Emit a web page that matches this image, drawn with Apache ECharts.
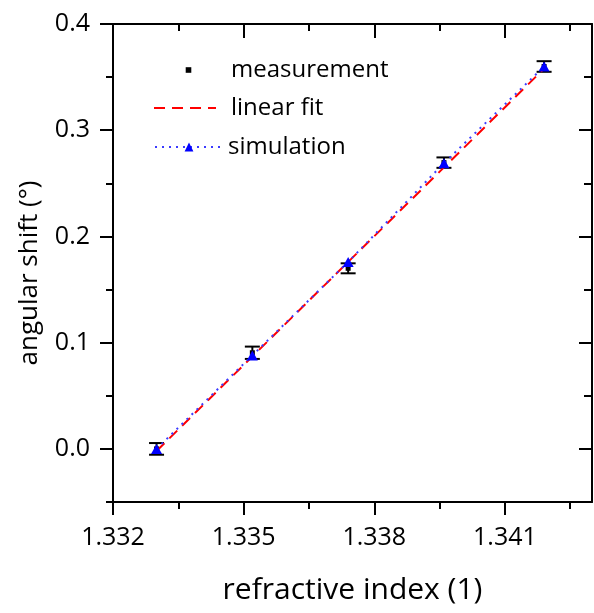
<!DOCTYPE html>
<html>
<head>
<meta charset="utf-8">
<script src="https://cdn.jsdelivr.net/npm/echarts@6/dist/echarts.min.js"></script>
<style>
html,body{margin:0;padding:0;background:#fff;}
#chart{width:594px;height:613px;}
</style>
</head>
<body>
<div id="chart"></div>
<script>
// ---- data ----
const measX   = [1.3330, 1.3352, 1.3374, 1.3396, 1.3419];
const measY   = [0.000, 0.0905, 0.170, 0.2695, 0.360];
const measErr = [0.0055, 0.0058, 0.0047, 0.0049, 0.0050];
const simX    = [1.3330, 1.3352, 1.3374, 1.3396, 1.3419];
const simY    = [0.000, 0.088, 0.176, 0.269, 0.360];
const fitX    = [1.3330, 1.3419];
const fitY    = [-0.002, 0.358];

const xMajor = [1.332, 1.335, 1.338, 1.341];
const xTickLabels = ['1.332', '1.335', '1.338', '1.341'];
const xMinor = [1.3335, 1.3365, 1.3395, 1.3425];
const yMajor = [0.0, 0.1, 0.2, 0.3, 0.4];
const yTickLabels = ['0.0', '0.1', '0.2', '0.3', '0.4'];
const yMinor = [-0.05, 0.05, 0.15, 0.25, 0.35];

const XMIN = 1.332, XMAX = 1.343, YMIN = -0.05, YMAX = 0.4;

const FONT = 'Open Sans';
const black = '#000';

function lab(list, labels) {
  return function (v) {
    const i = list.findIndex(t => Math.abs(t - v) < 1e-9);
    return i >= 0 ? labels[i] : '';
  };
}

function xAxisDef(pos, ticks, len, inside, withLabels, showLine) {
  const a = {
    type: 'value', position: pos, min: XMIN, max: XMAX, interval: 0.001,
    axisLine: { show: showLine, onZero: false, lineStyle: { color: black, width: 2 } },
    axisTick: { show: true, inside: inside, length: len, customValues: ticks,
                lineStyle: { color: black, width: 2 } },
    axisLabel: { show: false },
    splitLine: { show: false }
  };
  if (withLabels) {
    a.axisLabel = { show: true, customValues: xMajor, formatter: lab(xMajor, xTickLabels),
      color: black, fontFamily: FONT, fontSize: 25, margin: 23 };
    a.name = 'refractive index (1)';
    a.nameLocation = 'middle';
    a.nameGap = 73;
    a.nameTextStyle = { color: black, fontFamily: FONT, fontSize: 30 };
  }
  return a;
}
function yAxisDef(pos, ticks, len, inside, withLabels, showLine) {
  const a = {
    type: 'value', position: pos, min: YMIN, max: YMAX, interval: 0.05,
    axisLine: { show: showLine, onZero: false, lineStyle: { color: black, width: 2 } },
    axisTick: { show: true, inside: inside, length: len, customValues: ticks,
                lineStyle: { color: black, width: 2 } },
    axisLabel: { show: false },
    splitLine: { show: false }
  };
  if (withLabels) {
    a.axisLabel = { show: true, customValues: yMajor, formatter: lab(yMajor, yTickLabels),
      color: black, fontFamily: FONT, fontSize: 25, margin: 23 };
    a.name = 'angular shift (°)';
    a.nameLocation = 'middle';
    a.nameGap = 70;
    a.nameRotate = 90;
    a.nameTextStyle = { color: black, fontFamily: FONT, fontSize: 26, padding: [0, 20, 0, 0] };
  }
  return a;
}

const chart = echarts.init(document.getElementById('chart'), null, { renderer: 'canvas' });

const legendText = { color: black, fontFamily: FONT, fontSize: 24 };

const option = {
  animation: false,
  backgroundColor: '#fff',
  grid: { left: 113, top: 24, width: 479, height: 478, containLabel: false, outerBoundsMode: 'none' },
  xAxis: [
    xAxisDef('bottom', xMajor, 13, false, true, true),
    xAxisDef('bottom', xMinor, 7, false, false, false),
    xAxisDef('top', xMajor, 14, true, false, true),
    xAxisDef('top', xMinor, 7, true, false, false)
  ],
  yAxis: [
    yAxisDef('left', yMajor, 13, false, true, true),
    yAxisDef('left', yMinor, 7, false, false, false),
    yAxisDef('right', yMajor, 13, true, false, true),
    yAxisDef('right', yMinor, 8, true, false, false)
  ],
  legend: [
    { data: [{ name: 'measurement', lineStyle: { opacity: 0 } }],
      left: 151, top: 58, padding: 0, itemWidth: 75, itemHeight: 7,
      textStyle: legendText, selectedMode: false },
    { data: [{ name: 'linear fit', itemStyle: { opacity: 0 } }],
      left: 153, top: 96, padding: 0, itemWidth: 62, itemHeight: 10,
      textStyle: Object.assign({ padding: [0, 0, 0, 10] }, legendText), selectedMode: false },
    { data: [{ name: 'simulation' }],
      left: 154, top: 135, padding: 0, itemWidth: 68, itemHeight: 11,
      textStyle: legendText, selectedMode: false }
  ],
  series: [
    {
      name: 'errorbars', type: 'custom', xAxisIndex: 0, yAxisIndex: 0, z: 1,
      data: measX.map((x, i) => [x, measY[i], measErr[i]]),
      encode: { x: 0, y: 1 },
      renderItem: function (params, api) {
        const x = api.value(0), y = api.value(1), e = api.value(2);
        const t = api.coord([x, y + e]);
        const b = api.coord([x, y - e]);
        const w = 7.5;
        const st = { stroke: black, lineWidth: 2 };
        return { type: 'group', children: [
          { type: 'line', shape: { x1: t[0], y1: t[1], x2: b[0], y2: b[1] }, style: st },
          { type: 'line', shape: { x1: t[0] - w, y1: t[1], x2: t[0] + w, y2: t[1] }, style: st },
          { type: 'line', shape: { x1: b[0] - w, y1: b[1], x2: b[0] + w, y2: b[1] }, style: st }
        ] };
      }
    },
    {
      name: 'measurement', type: 'line', xAxisIndex: 0, yAxisIndex: 0, z: 2,
      data: measX.map((x, i) => [x, measY[i]]),
      symbol: 'rect', symbolSize: 5, showAllSymbol: true,
      itemStyle: { color: black },
      lineStyle: { opacity: 0, width: 0 }
    },
    {
      name: 'linear fit', type: 'line', xAxisIndex: 0, yAxisIndex: 0, z: 3,
      data: fitX.map((x, i) => [x, fitY[i]]),
      symbol: 'none',
      itemStyle: { color: '#ff0000' },
      lineStyle: { color: '#ff0000', width: 2, type: [11, 7] }
    },
    {
      name: 'simulation', type: 'line', xAxisIndex: 0, yAxisIndex: 0, z: 4,
      data: simX.map((x, i) => [x, simY[i]]),
      symbol: 'triangle', symbolSize: [11, 10], showAllSymbol: true,
      itemStyle: { color: '#0000ff' },
      lineStyle: { color: '#3b3bff', width: 2, type: [2, 5] }
    }
  ]
};
chart.setOption(option);
</script>
</body>
</html>
